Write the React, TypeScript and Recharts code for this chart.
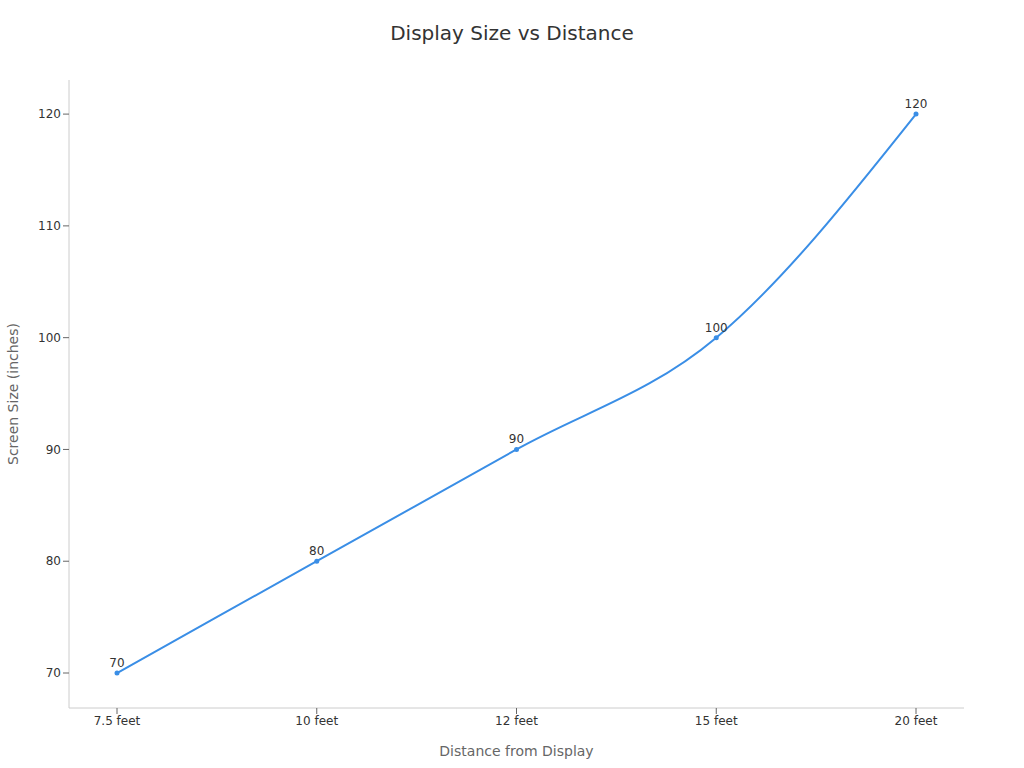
import { LineChart, Line, XAxis, YAxis, Label, LabelList } from "recharts";

const distances: string[] = ["7.5 feet", "10 feet", "12 feet", "15 feet", "20 feet"];
const screenSizes: number[] = [70, 80, 90, 100, 120];
const yTicks: number[] = [70, 80, 90, 100, 110, 120];

const data = distances.map((d, i) => ({ distance: d, size: screenSizes[i] }));

const LINE_COLOR = "#3a8ee6";

export default function App() {
    return (
        <div
            style={{
                position: "absolute",
                left: 0,
                top: 0,
                width: 1024,
                height: 768,
                background: "#fff",
                fontFamily: "'DejaVu Sans', sans-serif",
            }}
        >
            <div
                style={{
                    position: "absolute",
                    top: 21,
                    width: 1024,
                    textAlign: "center",
                    fontSize: 20,
                    color: "#333",
                }}
            >
                Display Size vs Distance
            </div>
            <LineChart
                width={1024}
                height={768}
                data={data}
                margin={{ top: 80, right: 60, bottom: 30, left: 9 }}
            >
                <XAxis
                    dataKey="distance"
                    padding={{ left: 48, right: 48 }}
                    height={30}
                    axisLine={{ stroke: "#ccc" }}
                    tickLine={{ stroke: "#666" }}
                    tick={{ fill: "#333", fontSize: 12 }}
                >
                    <Label
                        value="Distance from Display"
                        position="bottom"
                        offset={8}
                        style={{ fill: "#666", fontSize: 14 }}
                    />
                </XAxis>
                <YAxis
                    width={60}
                    domain={[66.87, 123.05]}
                    ticks={yTicks}
                    allowDataOverflow
                    axisLine={{ stroke: "#ccc" }}
                    tickLine={{ stroke: "#666" }}
                    tick={{ fill: "#333", fontSize: 12 }}
                >
                    <Label
                        content={(props: any) => {
                            const vb = props.viewBox || {};
                            const cy = (vb.y ?? 80) + (vb.height ?? 628) / 2;
                            return (
                                <text
                                    x={13}
                                    y={cy}
                                    transform={`rotate(-90, 13, ${cy})`}
                                    textAnchor="middle"
                                    dominantBaseline="central"
                                    fill="#666"
                                    fontSize={14}
                                >
                                    Screen Size (inches)
                                </text>
                            );
                        }}
                    />
                </YAxis>
                <Line
                    type="monotone"
                    dataKey="size"
                    stroke={LINE_COLOR}
                    strokeWidth={2}
                    dot={{ r: 2.5, fill: LINE_COLOR, stroke: LINE_COLOR, strokeWidth: 0 }}
                    activeDot={false}
                    isAnimationActive={false}
                >
                    <LabelList dataKey="size" position="top" offset={6} fill="#333" fontSize={12} />
                </Line>
            </LineChart>
        </div>
    );
}
